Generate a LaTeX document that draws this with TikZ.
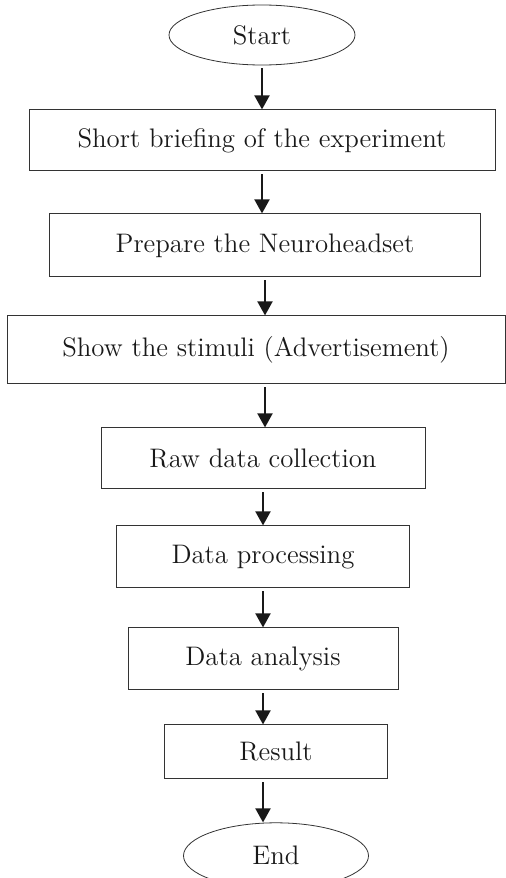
\documentclass[tikz,border=0pt]{standalone}
\usetikzlibrary{shapes.geometric, positioning, arrows.meta}

\begin{document}
\begin{tikzpicture}[node distance=20pt]
	\tikzstyle{stepbox}=[draw=black!80, line width=0.5pt, rectangle, inner sep=0pt, text=black!90, font=\fontsize{13.4}{16}\selectfont]
	\tikzstyle{terminal}=[draw=black!80, line width=0.4pt, ellipse, inner sep=0pt, text=black!90, font=\fontsize{13.4}{16}\selectfont]
	\tikzstyle{flow}=[draw=black!90, line width=1pt, -{Triangle[length=7pt,width=7.5pt]}, shorten <=1.5pt]

	\useasboundingbox (0,0) rectangle (253pt,-439pt);

	\node[terminal,minimum width=93pt,minimum height=30pt] (start) at (131pt,-17.5pt) {Start};
	\node[stepbox,minimum width=233pt,minimum height=30.5pt,below=22pt of start] (brief) {Short briefing of the experiment};
	\node[stepbox,minimum width=215.5pt,minimum height=31.5pt,below=21pt of brief,xshift=1.5pt] (prep) {Prepare the Neuroheadset};
	\node[stepbox,minimum width=249pt,minimum height=34pt,below=19pt of prep,xshift=-4.5pt] (show) {Show the stimuli (Advertisement)};
	\node[stepbox,minimum width=162pt,minimum height=30.5pt,below=21.5pt of show,xshift=3.5pt] (raw) {Raw data collection};
	\node[stepbox,minimum width=146.5pt,minimum height=31pt,below=18pt of raw] (proc) {Data processing};
	\node[stepbox,minimum width=135pt,minimum height=31pt,below=19.5pt of proc] (anal) {Data analysis};
	\node[stepbox,minimum width=111.5pt,minimum height=27pt,below=17pt of anal,xshift=6.5pt] (res) {Result};
	\node[terminal,minimum width=92.5pt,minimum height=33pt,below=21.5pt of res] (end) {End};

	\draw[flow] (start.south) -- (start.south |- brief.north);
	\draw[flow] (brief.south) -- (brief.south |- prep.north);
	\draw[flow] (prep.south) -- (prep.south |- show.north);
	\draw[flow] (prep.south |- show.south) -- (prep.south |- raw.north);
	\draw[flow] (raw.south) -- (raw.south |- proc.north);
	\draw[flow] (proc.south) -- (proc.south |- anal.north);
	\draw[flow] (anal.south) -- (anal.south |- res.north);
	\draw[flow] (anal.south |- res.south) -- (anal.south |- end.north);
\end{tikzpicture}
\end{document}
